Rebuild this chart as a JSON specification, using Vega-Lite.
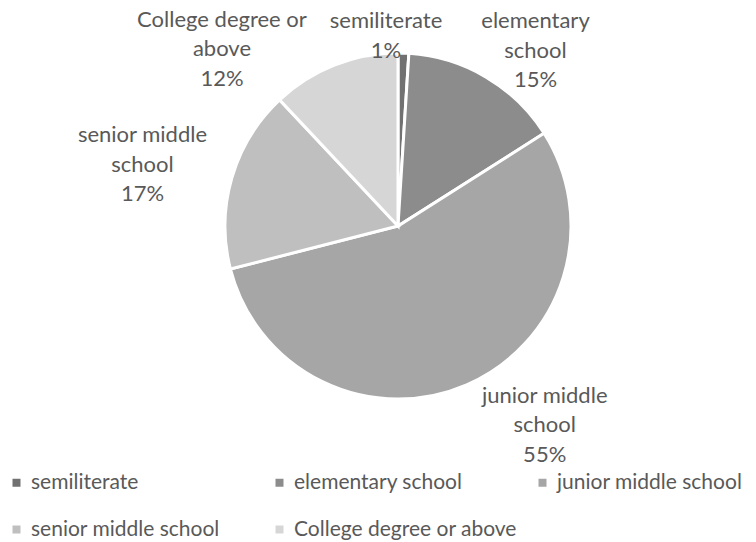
{
  "$schema": "https://vega.github.io/schema/vega-lite/v6.json",
  "width": 716,
  "height": 452,
  "autosize": {"type": "none"},
  "padding": {"left": 40, "top": 0, "right": 0, "bottom": 90},
  "background": "white",
  "config": {"view": {"stroke": null}, "font": "Lato"},
  "data": {
    "values": [
      {"cat": "semiliterate", "value": 1, "ord": 1, "label": "semiliterate\n1%"},
      {"cat": "elementary school", "value": 15, "ord": 2, "label": "elementary\nschool\n15%"},
      {"cat": "junior middle school", "value": 55, "ord": 3, "label": "junior middle\nschool\n55%"},
      {"cat": "senior middle school", "value": 17, "ord": 4, "label": "senior middle\nschool\n17%"},
      {"cat": "College degree or above", "value": 12, "ord": 5, "label": "College degree or\nabove\n12%"}
    ]
  },
  "layer": [
    {
      "mark": {"type": "arc", "outerRadius": 173, "stroke": "white", "strokeWidth": 3},
      "encoding": {
        "theta": {"field": "value", "type": "quantitative", "stack": true},
        "order": {"field": "ord", "type": "quantitative"},
        "color": {
          "field": "cat",
          "type": "nominal",
          "scale": {
            "domain": ["semiliterate", "elementary school", "junior middle school", "senior middle school", "College degree or above"],
            "range": ["#717171", "#8c8c8c", "#a6a6a6", "#bfbfbf", "#d6d6d6"]
          },
          "legend": {
            "title": null,
            "orient": "none",
            "legendX": -34,
            "legendY": 472,
            "direction": "horizontal",
            "columns": 3,
            "gridAlign": "all",
            "columnPadding": 15,
            "rowPadding": 25,
            "symbolType": "square",
            "symbolSize": 64,
            "symbolStrokeWidth": 0,
            "labelFont": "Lato",
            "labelFontSize": 21,
            "labelColor": "#595959",
            "labelOffset": 4,
            "labelLimit": 400,
            "padding": 0
          }
        }
      }
    },
    {
      "mark": {"type": "text", "radius": 191, "dx": -18, "dy": -14, "lineBreak": "\n", "fontSize": 22, "color": "#595959", "align": "center", "baseline": "middle", "lineHeight": 29.5},
      "encoding": {
        "theta": {"field": "value", "type": "quantitative", "stack": true},
        "order": {"field": "ord", "type": "quantitative"},
        "text": {"condition": {"test": "datum.cat === 'semiliterate'", "field": "label"}, "value": ""}
      }
    },
    {
      "mark": {"type": "text", "radius": 223, "dx": 24, "dy": -13, "lineBreak": "\n", "fontSize": 22, "color": "#595959", "align": "center", "baseline": "middle", "lineHeight": 29.5},
      "encoding": {
        "theta": {"field": "value", "type": "quantitative", "stack": true},
        "order": {"field": "ord", "type": "quantitative"},
        "text": {"condition": {"test": "datum.cat === 'elementary school'", "field": "label"}, "value": ""}
      }
    },
    {
      "mark": {"type": "text", "radius": 246, "dx": 49, "dy": -56, "lineBreak": "\n", "fontSize": 22, "color": "#595959", "align": "center", "baseline": "middle", "lineHeight": 29.5},
      "encoding": {
        "theta": {"field": "value", "type": "quantitative", "stack": true},
        "order": {"field": "ord", "type": "quantitative"},
        "text": {"condition": {"test": "datum.cat === 'junior middle school'", "field": "label"}, "value": ""}
      }
    },
    {
      "mark": {"type": "text", "radius": 264, "dx": -2, "dy": -17, "lineBreak": "\n", "fontSize": 22, "color": "#595959", "align": "center", "baseline": "middle", "lineHeight": 29.5},
      "encoding": {
        "theta": {"field": "value", "type": "quantitative", "stack": true},
        "order": {"field": "ord", "type": "quantitative"},
        "text": {"condition": {"test": "datum.cat === 'senior middle school'", "field": "label"}, "value": ""}
      }
    },
    {
      "mark": {"type": "text", "radius": 250, "dx": -84, "dy": 26, "lineBreak": "\n", "fontSize": 22, "color": "#595959", "align": "center", "baseline": "middle", "lineHeight": 29.5},
      "encoding": {
        "theta": {"field": "value", "type": "quantitative", "stack": true},
        "order": {"field": "ord", "type": "quantitative"},
        "text": {"condition": {"test": "datum.cat === 'College degree or above'", "field": "label"}, "value": ""}
      }
    }
  ]
}
